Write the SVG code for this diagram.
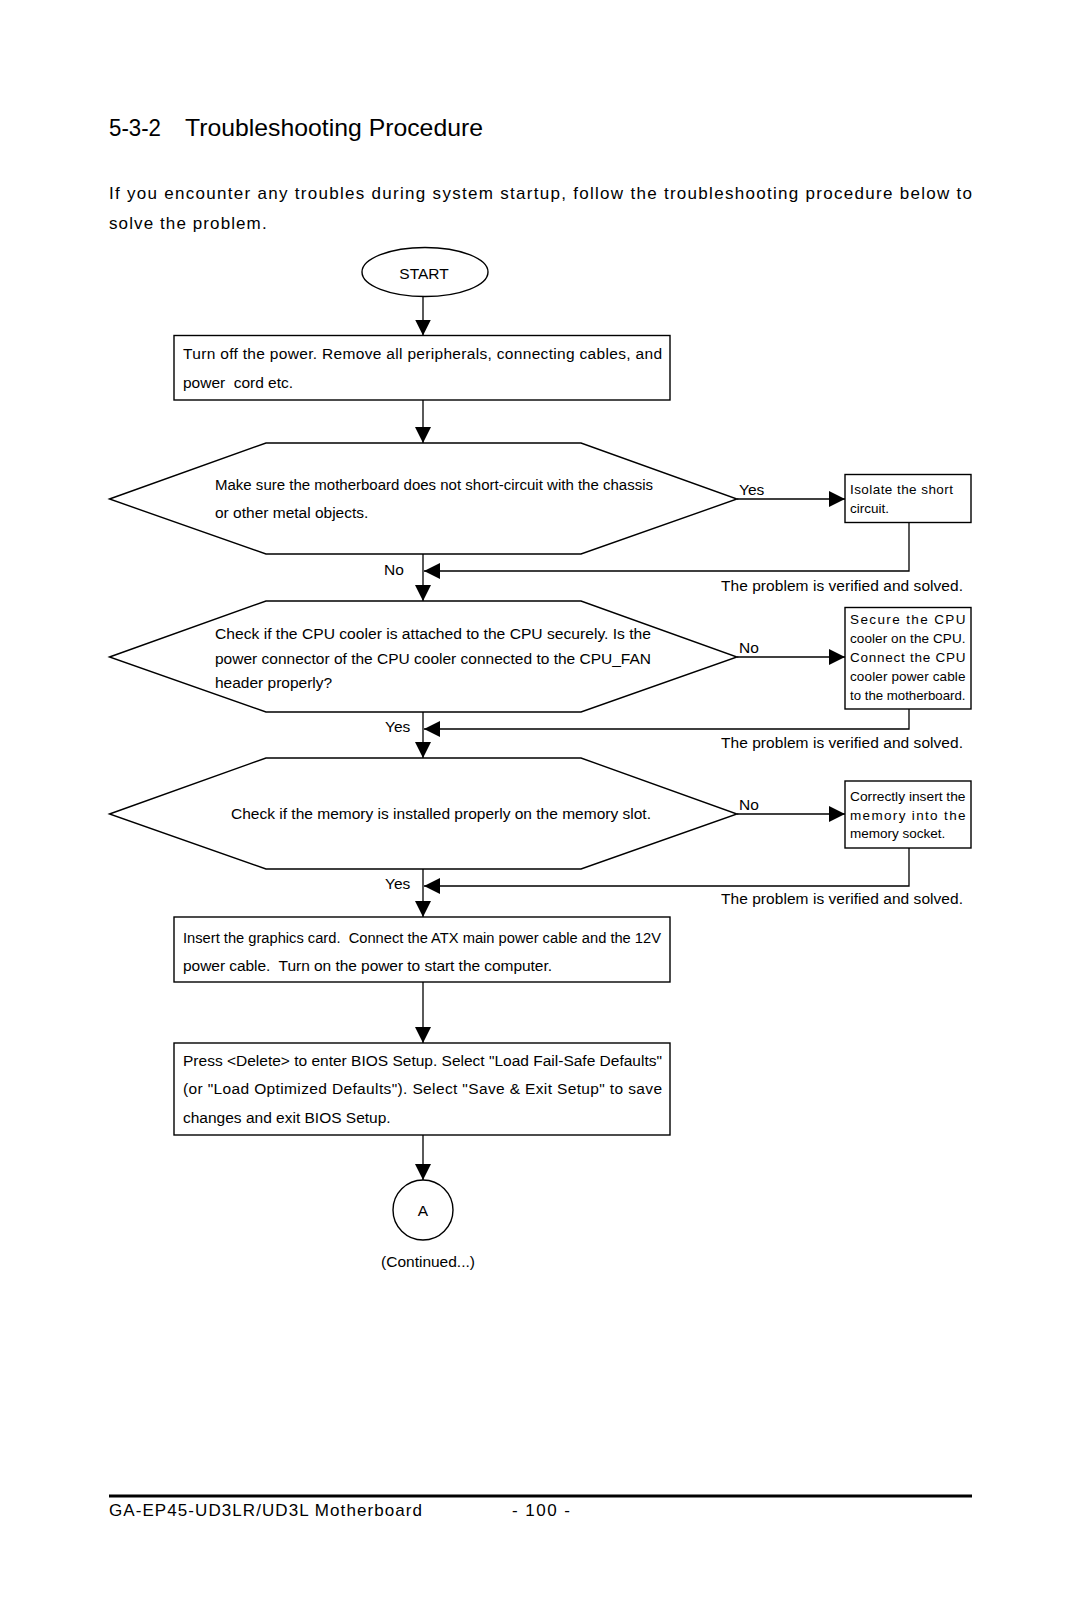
<svg xmlns="http://www.w3.org/2000/svg" width="1080" height="1604" viewBox="0 0 1080 1604">
<defs>
<marker id="ah" markerUnits="userSpaceOnUse" markerWidth="17" markerHeight="17" refX="16" refY="8" orient="auto">
<path d="M0,0 L16,8 L0,16 z" fill="#000"/>
</marker>
<style>
text{font-family:"Liberation Sans",Arial,Helvetica,sans-serif;fill:#000}
.t{font-size:15.5px}
.s{font-size:13.5px}
.n{fill:#fff;stroke:#000;stroke-width:1.4}
.c{fill:none;stroke:#000;stroke-width:1.3}
.m{text-anchor:middle}
.p{white-space:pre}
</style>
</defs>
<rect width="1080" height="1604" fill="#fff"/>

<g id="header">
<text x="109" y="136" font-size="24" textLength="52" lengthAdjust="spacingAndGlyphs">5-3-2</text>
<text x="185" y="136" font-size="24" textLength="298" lengthAdjust="spacingAndGlyphs">Troubleshooting Procedure</text>
<text x="109" y="199" font-size="17" textLength="863" lengthAdjust="spacing">If you encounter any troubles during system startup, follow the troubleshooting procedure below to</text>
<text x="109" y="229" font-size="17" letter-spacing="1.1">solve the problem.</text>
</g>

<g id="connectors">
<line class="c" x1="423" y1="297" x2="423" y2="335.5" marker-end="url(#ah)"/>
<line class="c" x1="423" y1="400" x2="423" y2="443" marker-end="url(#ah)"/>
<line class="c" x1="423" y1="554" x2="423" y2="601" marker-end="url(#ah)"/>
<line class="c" x1="423" y1="712" x2="423" y2="758" marker-end="url(#ah)"/>
<line class="c" x1="423" y1="869" x2="423" y2="917" marker-end="url(#ah)"/>
<line class="c" x1="423" y1="982" x2="423" y2="1043" marker-end="url(#ah)"/>
<line class="c" x1="423" y1="1135" x2="423" y2="1180" marker-end="url(#ah)"/>
<line class="c" x1="737" y1="499" x2="845" y2="499" marker-end="url(#ah)"/>
<line class="c" x1="737" y1="657" x2="845" y2="657" marker-end="url(#ah)"/>
<line class="c" x1="737" y1="814" x2="845" y2="814" marker-end="url(#ah)"/>
<polyline class="c" points="909,523 909,571 424,571" marker-end="url(#ah)"/>
<polyline class="c" points="909,709 909,729 424,729" marker-end="url(#ah)"/>
<polyline class="c" points="909,848 909,886 424,886" marker-end="url(#ah)"/>
<text class="t" x="739" y="495">Yes</text>
<text class="t" x="384" y="575">No</text>
<text class="t" x="721" y="591" textLength="242" lengthAdjust="spacing">The problem is verified and solved.</text>
<text class="t" x="739" y="653">No</text>
<text class="t" x="385" y="732">Yes</text>
<text class="t" x="721" y="748" textLength="242" lengthAdjust="spacing">The problem is verified and solved.</text>
<text class="t" x="739" y="810">No</text>
<text class="t" x="385" y="889">Yes</text>
<text class="t" x="721" y="904" textLength="242" lengthAdjust="spacing">The problem is verified and solved.</text>
</g>

<g id="start">
<ellipse class="n" cx="425" cy="272" rx="63" ry="24.5"/>
<text class="t m" x="424" y="279">START</text>
</g>

<g id="step1">
<rect class="n" x="174" y="335.5" width="496" height="64.5"/>
<text class="t" x="183" y="359" textLength="479" lengthAdjust="spacing">Turn off the power. Remove all peripherals, connecting cables, and</text>
<text class="t p" x="183" y="388" textLength="110" lengthAdjust="spacing">power  cord etc.</text>
</g>

<g id="check-short">
<polygon class="n" points="109.5,499 266,443 581,443 737,499 581,554 266,554"/>
<text class="t" x="215" y="490" textLength="438" lengthAdjust="spacingAndGlyphs">Make sure the motherboard does not short-circuit with the chassis</text>
<text class="t" x="215" y="518">or other metal objects.</text>
</g>

<g id="isolate">
<rect class="n" x="845" y="474.5" width="126" height="48"/>
<text class="s" x="850" y="494" textLength="103" lengthAdjust="spacing">Isolate the short</text>
<text class="s" x="850" y="513">circuit.</text>
</g>

<g id="check-cpu">
<polygon class="n" points="109.5,657 266,601 581,601 737,657 581,712 266,712"/>
<text class="t" x="215" y="639" textLength="436" lengthAdjust="spacingAndGlyphs">Check if the CPU cooler is attached to the CPU securely. Is the</text>
<text class="t" x="215" y="664" textLength="436" lengthAdjust="spacingAndGlyphs">power connector of the CPU cooler connected to the CPU_FAN</text>
<text class="t" x="215" y="688">header properly?</text>
</g>

<g id="secure-cpu">
<rect class="n" x="845" y="607.5" width="126" height="101.5"/>
<text class="s" x="850" y="624" textLength="115.5" lengthAdjust="spacing">Secure the CPU</text>
<text class="s" x="850" y="643" textLength="115.5" lengthAdjust="spacing">cooler on the CPU.</text>
<text class="s" x="850" y="662" textLength="115.5" lengthAdjust="spacing">Connect the CPU</text>
<text class="s" x="850" y="681" textLength="115.5" lengthAdjust="spacing">cooler power cable</text>
<text class="s" x="850" y="700" textLength="115.5" lengthAdjust="spacingAndGlyphs">to the motherboard.</text>
</g>

<g id="check-memory">
<polygon class="n" points="109.5,814 266,758 581,758 737,814 581,869 266,869"/>
<text class="t" x="231" y="819" textLength="420" lengthAdjust="spacingAndGlyphs">Check if the memory is installed properly on the memory slot.</text>
</g>

<g id="insert-memory">
<rect class="n" x="845" y="781" width="126" height="67"/>
<text class="s" x="850" y="801" textLength="115.5" lengthAdjust="spacingAndGlyphs">Correctly insert the</text>
<text class="s" x="850" y="820" textLength="115.5" lengthAdjust="spacing">memory into the</text>
<text class="s" x="850" y="838">memory socket.</text>
</g>

<g id="step-power">
<rect class="n" x="174" y="917" width="496" height="65"/>
<text class="t p" x="183" y="943" textLength="478" lengthAdjust="spacingAndGlyphs">Insert the graphics card.  Connect the ATX main power cable and the 12V</text>
<text class="t p" x="183" y="971" textLength="369" lengthAdjust="spacing">power cable.  Turn on the power to start the computer.</text>
</g>

<g id="step-bios">
<rect class="n" x="174" y="1043" width="496" height="92"/>
<text class="t" x="183" y="1066" textLength="479" lengthAdjust="spacing">Press &lt;Delete&gt; to enter BIOS Setup. Select "Load Fail-Safe Defaults"</text>
<text class="t" x="183" y="1094" textLength="479" lengthAdjust="spacing">(or "Load Optimized Defaults"). Select "Save &amp; Exit Setup" to save</text>
<text class="t" x="183" y="1123">changes and exit BIOS Setup.</text>
</g>

<g id="connector-a">
<circle class="n" cx="423" cy="1210" r="30"/>
<text class="t m" x="423" y="1216">A</text>
<text class="t m" x="428" y="1267">(Continued...)</text>
</g>

<g id="footer">
<line x1="109" y1="1496" x2="972" y2="1496" stroke="#000" stroke-width="3"/>
<text x="109" y="1516" font-size="17" textLength="313" lengthAdjust="spacing">GA-EP45-UD3LR/UD3L Motherboard</text>
<text x="512" y="1516" font-size="17" textLength="58" lengthAdjust="spacing">- 100 -</text>
</g>
</svg>
